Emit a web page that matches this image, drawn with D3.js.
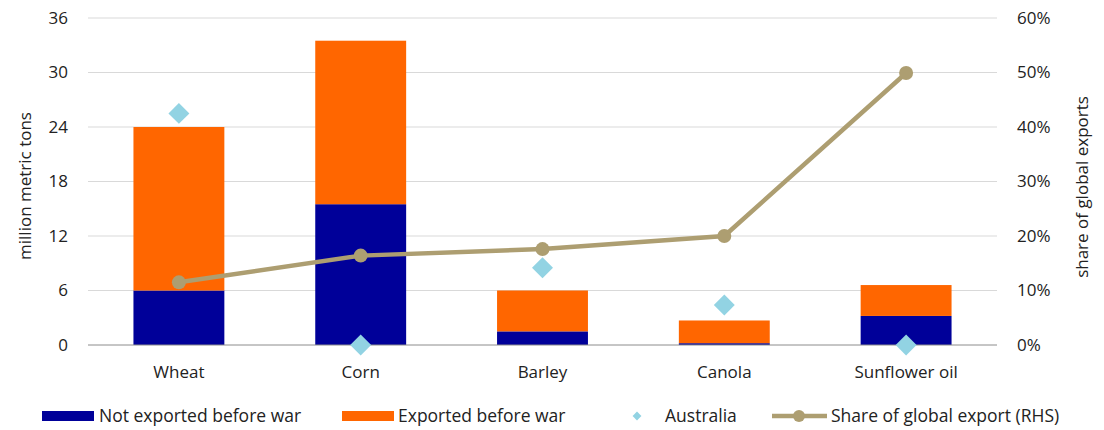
<!DOCTYPE html>
<html>
<head>
<meta charset="utf-8">
<script src="https://cdn.jsdelivr.net/npm/d3@7"></script>
<style>
  body { margin: 0; background: #fff; }
  text { font-family: "Open Sans", "Noto Sans", sans-serif; fill: #222; }
</style>
</head>
<body>
<div id="chart"></div>
<script>
// data
const categories = ["Wheat", "Corn", "Barley", "Canola", "Sunflower oil"]
const notExported = [6.0, 15.5, 1.5, 0.2, 3.2]
const exported = [18.0, 18.0, 4.5, 2.5, 3.4]
const australia = [25.5, 0, 8.5, 4.4, 0]
const shareGlobal = [0.115, 0.164, 0.176, 0.20, 0.499]
const leftTicks = [0, 6, 12, 18, 24, 30, 36]
const rightTicks = [0, 0.1, 0.2, 0.3, 0.4, 0.5, 0.6]

const W = 1104, H = 430
const margin = { top: 18, right: 107, bottom: 85, left: 88 }
const width = W - margin.left - margin.right
const height = H - margin.top - margin.bottom

const svg = d3.select("#chart").append("svg")
    .attr("width", W).attr("height", H)
const g = svg.append("g")
    .attr("transform", "translate(" + margin.left + "," + margin.top + ")")

const x = d3.scaleBand().domain(categories).range([0, width])
    .paddingInner(0.5).paddingOuter(0.25)
const y = d3.scaleLinear().domain([0, 36]).range([height, 0])
const y2 = d3.scaleLinear().domain([0, 0.6]).range([height, 0])

// gridlines
g.append("g")
    .selectAll("line")
    .data(leftTicks.slice(1))
    .enter().append("line")
    .attr("x1", 0).attr("x2", width)
    .attr("y1", d => y(d)).attr("y2", d => y(d))
    .style("stroke", "#d9d9d9").style("stroke-width", 1)

// left axis
const yAxis = g.append("g")
    .call(d3.axisLeft(y).tickValues(leftTicks).tickSize(0).tickPadding(20))
yAxis.select(".domain").remove()
yAxis.selectAll("text").style("font-size", "17px").style("fill", "#222")

// right axis
const yAxis2 = g.append("g")
    .attr("transform", "translate(" + width + ",0)")
    .call(d3.axisRight(y2).tickValues(rightTicks).tickFormat(d3.format(".0%")).tickSize(0).tickPadding(20))
yAxis2.select(".domain").remove()
yAxis2.selectAll("text").style("font-size", "17px").style("fill", "#222")

// stacked bars
const stackData = categories.map((c, i) => ({ cat: c, notExp: notExported[i], exp: exported[i] }))
const series = d3.stack().keys(["notExp", "exp"])(stackData)
const colors = { notExp: "#000099", exp: "#ff6600" }

g.append("g")
    .selectAll("g")
    .data(series)
    .enter().append("g")
    .style("fill", d => colors[d.key])
    .selectAll("rect")
    .data(d => d)
    .enter().append("rect")
    .attr("x", d => x(d.data.cat))
    .attr("width", x.bandwidth())
    .attr("y", d => y(d[1]))
    .attr("height", d => y(d[0]) - y(d[1]))

// baseline
g.append("line")
    .attr("x1", 0).attr("x2", width)
    .attr("y1", y(0)).attr("y2", y(0))
    .style("stroke", "#8c8c8c").style("stroke-width", 1)

// x labels
const xAxis = g.append("g")
    .attr("transform", "translate(0," + height + ")")
    .call(d3.axisBottom(x).tickSize(0).tickPadding(21))
xAxis.select(".domain").remove()
xAxis.selectAll("text").style("font-size", "17px").style("fill", "#222")

// Australia diamonds
const diamond = d3.symbol().type(d3.symbolDiamond2).size(280)
g.append("g")
    .selectAll("path")
    .data(australia)
    .enter().append("path")
    .attr("d", diamond)
    .attr("transform", (d, i) => "translate(" + (x(categories[i]) + x.bandwidth() / 2) + "," + y(d) + ")")
    .style("fill", "#92d3e3")

// share line
const line = d3.line()
    .x((d, i) => x(categories[i]) + x.bandwidth() / 2)
    .y(d => y2(d))
g.append("path")
    .datum(shareGlobal)
    .attr("d", line)
    .style("fill", "none")
    .style("stroke", "#ad9e71")
    .style("stroke-width", 4.5)
g.append("g")
    .selectAll("circle")
    .data(shareGlobal)
    .enter().append("circle")
    .attr("cx", (d, i) => x(categories[i]) + x.bandwidth() / 2)
    .attr("cy", d => y2(d))
    .attr("r", 7)
    .style("fill", "#ad9e71")

// axis titles
svg.append("text")
    .attr("text-anchor", "middle")
    .attr("transform", "translate(31," + 186 + ") rotate(-90)")
    .style("font-size", "17px")
    .text("million metric tons")
svg.append("text")
    .attr("text-anchor", "middle")
    .attr("transform", "translate(1088," + 187 + ") rotate(-90)")
    .style("font-size", "17px")
    .text("share of global exports")

// legend
const leg = svg.append("g").attr("transform", "translate(0,416)")
leg.append("rect").attr("x", 42).attr("y", -5).attr("width", 52).attr("height", 10).style("fill", colors.notExp)
leg.append("text").attr("x", 99).attr("dy", "0.35em").style("font-size", "17.5px").text("Not exported before war")
leg.append("rect").attr("x", 342).attr("y", -5).attr("width", 52).attr("height", 10).style("fill", colors.exp)
leg.append("text").attr("x", 398).attr("dy", "0.35em").style("font-size", "17.5px").text("Exported before war")
leg.append("path").attr("d", d3.symbol().type(d3.symbolDiamond2).size(50))
    .attr("transform", "translate(637,0)").style("fill", "#92d3e3")
leg.append("text").attr("x", 665).attr("dy", "0.35em").style("font-size", "17.5px").text("Australia")
leg.append("line").attr("x1", 772).attr("x2", 827).attr("y1", 0).attr("y2", 0)
    .style("stroke", "#ad9e71").style("stroke-width", 4.5)
leg.append("circle").attr("cx", 799).attr("cy", 0).attr("r", 6).style("fill", "#ad9e71")
leg.append("text").attr("x", 831).attr("dy", "0.35em").style("font-size", "17.5px").text("Share of global export (RHS)")
</script>
</body>
</html>
